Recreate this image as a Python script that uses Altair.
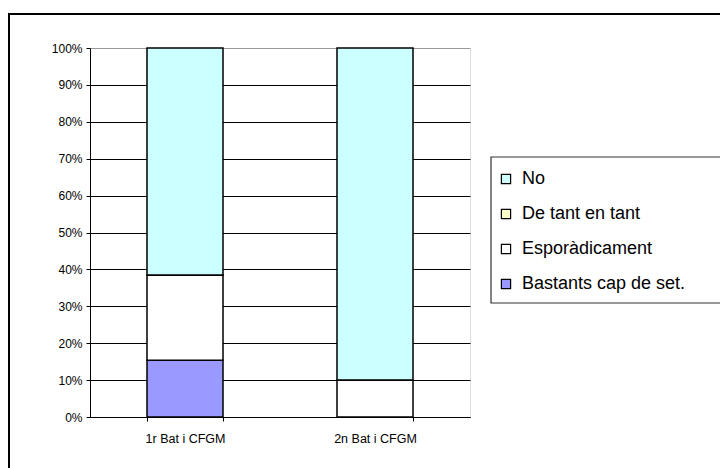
import altair as alt
import pandas as pd

categories = ["1r Bat i CFGM", "2n Bat i CFGM"]
series = ["Bastants cap de set.", "Esporàdicament", "De tant en tant", "No"]
values = {
    "Bastants cap de set.": [15.4, 0.0],
    "Esporàdicament": [23.1, 10.0],
    "De tant en tant": [0.0, 0.0],
    "No": [61.5, 90.0],
}
colors = {
    "No": "#CCFFFF",
    "De tant en tant": "#FFFFCC",
    "Esporàdicament": "#FFFFFF",
    "Bastants cap de set.": "#9999FF",
}
legend_order = ["No", "De tant en tant", "Esporàdicament", "Bastants cap de set."]

rows = []
for si, s in enumerate(series):
    for ci, c in enumerate(categories):
        rows.append({"cat": c, "serie": s, "val": values[s][ci], "ord": si})
df = pd.DataFrame(rows)

FONT = "Liberation Sans"

bars = alt.Chart(df).mark_bar(stroke="black", strokeWidth=1.5).encode(
    x=alt.X("cat:N", sort=categories, title=None,
            scale=alt.Scale(paddingInner=0.6, paddingOuter=0.3),
            axis=alt.Axis(labelAngle=0, labelFont=FONT, labelFontSize=12.5, labelColor="black",
                          domainColor="black", tickColor="black", tickSize=4, tickBand="extent",
                          labelPadding=11, grid=False)),
    y=alt.Y("val:Q", stack="zero", title=None,
            scale=alt.Scale(domain=[0, 100], nice=False),
            axis=alt.Axis(values=list(range(0, 101, 10)), labelExpr="datum.value + '%'",
                          labelFont=FONT, labelFontSize=12, labelColor="black",
                          domainColor="black", tickColor="black", tickSize=4, labelPadding=4,
                          grid=True,
                          gridColor={"condition": {"test": "datum.value === 100", "value": "#999999"},
                                     "value": "black"},
                          gridWidth=1)),
    color=alt.Color("serie:N", title=None,
                    scale=alt.Scale(domain=legend_order, range=[colors[s] for s in legend_order]),
                    legend=alt.Legend(orient="none", legendX=407, legendY=122, padding=0,
                                      symbolType="square", symbolSize=85, symbolStrokeColor="black",
                                      symbolStrokeWidth=1.2, labelFont=FONT, labelFontSize=18,
                                      labelColor="black", labelOffset=7, rowPadding=17,
                                      labelLimit=300)),
    order=alt.Order("ord:Q", sort="ascending"),
)

frame = pd.DataFrame([{"k": 1}])
outer = alt.Chart(frame).mark_rect(fill=None, stroke="black", strokeWidth=2).encode(
    x=alt.value(-81), x2=alt.value(700), y=alt.value(-34), y2=alt.value(500)
)
legend_box = alt.Chart(frame).mark_rect(fill="white", stroke="#333333", strokeWidth=1.2).encode(
    x=alt.value(401), x2=alt.value(631), y=alt.value(109), y2=alt.value(255)
)

chart = alt.layer(outer, legend_box, bars).properties(
    width=380, height=369,
    padding={"left": 82, "top": 40, "right": 250, "bottom": 51},
    autosize=alt.AutoSizeParams(type="none"),
).configure_view(stroke="#999999", strokeWidth=2).configure(background="white")

chart.save("out.html", embed_options={"renderer": "svg", "actions": False})
